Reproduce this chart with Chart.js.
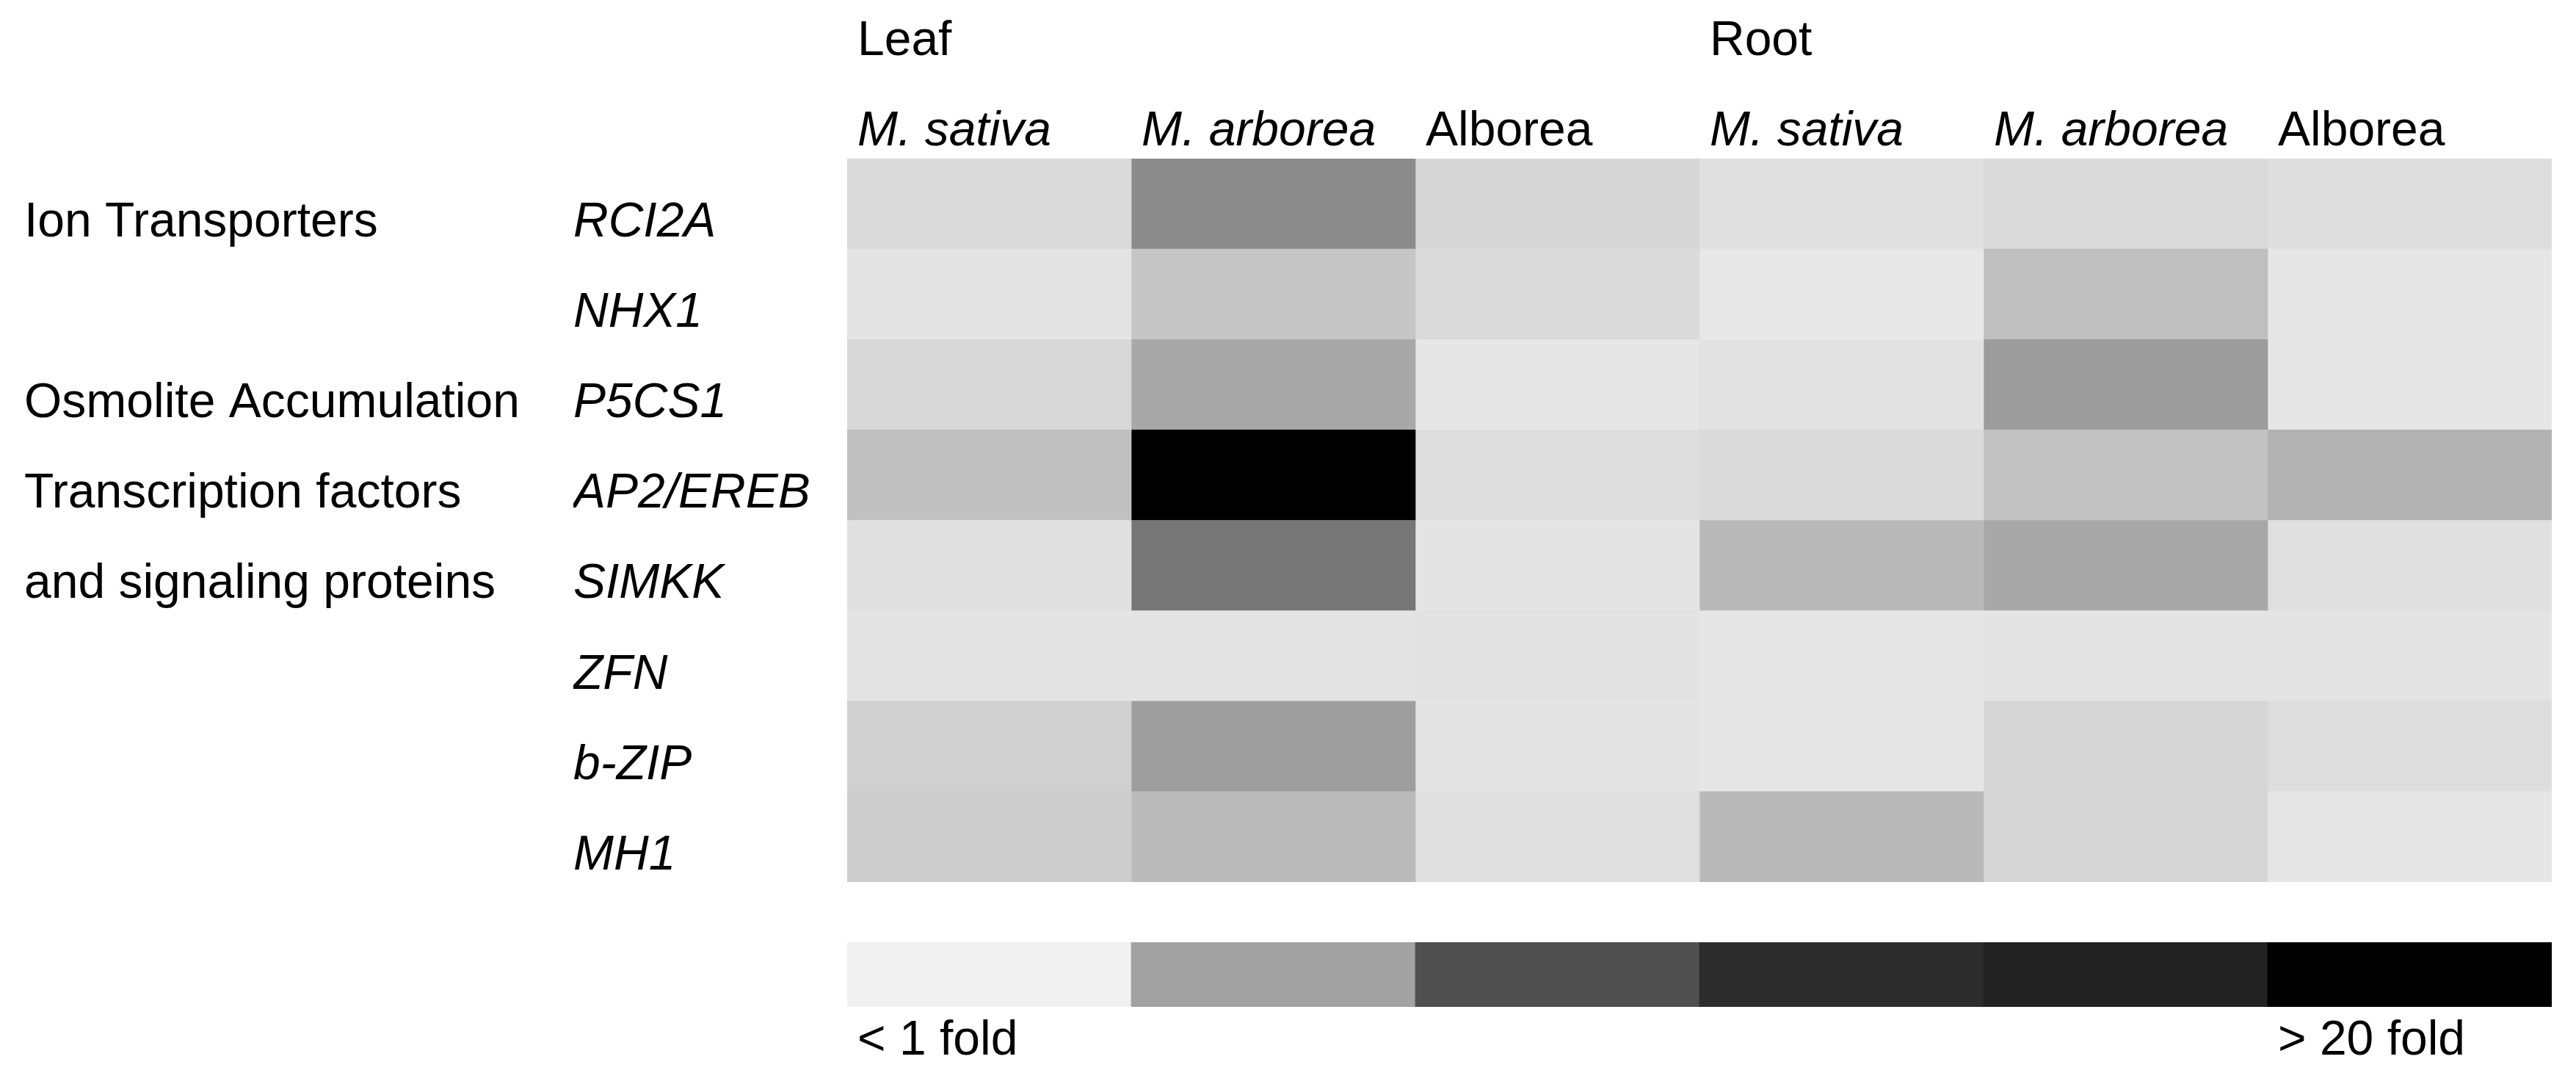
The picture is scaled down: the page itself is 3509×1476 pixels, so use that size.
<!DOCTYPE html>
<html>
<head>
<meta charset="utf-8">
<title>Expression heatmap</title>
<script src="https://cdn.jsdelivr.net/npm/chart.js"></script>
<style>
    body { margin: 0; background: #ffffff; }
    #wrap { position: relative; width: 3509px; height: 1476px; }
    #heatBox { position: absolute; left: 0; top: 0; width: 3509px; height: 1476px; }
    #keyBox { position: absolute; left: 0; top: 1250px; width: 3509px; height: 226px; }
</style>
</head>
<body>
<div id="wrap">
    <div id="heatBox"><canvas id="heatChart"></canvas></div>
    <div id="keyBox"><canvas id="keyChart"></canvas></div>
</div>

<script>
    // filas (genes) y grupos funcionales
    var genes = ['RCI2A', 'NHX1', 'P5CS1', 'AP2/EREB', 'SIMKK', 'ZFN', 'b-ZIP', 'MH1'];
    var groups = ['Ion Transporters', '', 'Osmolite Accumulation', 'Transcription factors', 'and signaling proteins', '', '', ''];

    // columnas
    var tissues = ['Leaf', '', '', 'Root', '', ''];
    var lines = ['M. sativa', 'M. arborea', 'Alborea', 'M. sativa', 'M. arborea', 'Alborea'];

    var leafSativa  = [1.8, 1.0, 2.0, 4.0, 1.3, 1.0, 2.7, 2.9];
    var leafArborea = [8.3, 3.5, 6.0, 20.0, 10.2, 1.0, 6.8, 4.5];
    var leafAlborea = [2.2, 1.8, 0.8, 1.5, 1.0, 1.2, 1.0, 1.4];
    var rootSativa  = [1.3, 0.7, 1.2, 1.8, 4.6, 0.8, 0.8, 4.6];
    var rootArborea = [1.8, 4.1, 7.0, 3.8, 6.0, 1.0, 2.2, 2.2];
    var rootAlborea = [1.5, 0.8, 0.8, 5.2, 1.3, 1.0, 1.5, 0.8];

    // escala de la leyenda
    var keyLabels = ['< 1 fold', '', '', '', '', '> 20 fold'];
    var keyColors = ['#f0f0f0', '#a2a2a2', '#4f4f4f', '#2c2c2c', '#222222', '#000000'];

    var FONT = '"Liberation Sans", Arial, sans-serif';
    var columns = [leafSativa, leafArborea, leafAlborea, rootSativa, rootArborea, rootAlborea];

    function greyFor(fold) {
        var f = Math.min(20, Math.max(0, fold));
        var v = Math.round(240 - 12 * f);
        return 'rgb(' + v + ',' + v + ',' + v + ')';
    }

    // fija la altura del eje y quita el margen que Chart.js reserva para las etiquetas
    function fixHeight(h) {
        return function (s) {
            s.height = h;
            s.paddingLeft = 0;
            s.paddingRight = 0;
        };
    }

    var noGrid = { display: false, drawTicks: false };
    var noBorder = { display: false };

    var heatDatasets = columns.map(function (col, i) {
        return {
            label: lines[i],
            data: col.map(function () { return 1; }),
            backgroundColor: col.map(greyFor),
            borderWidth: 0,
            barPercentage: 1,
            categoryPercentage: 1
        };
    });

    new Chart(document.getElementById('heatChart').getContext('2d'), {
        type: 'bar',
        data: { labels: genes, datasets: heatDatasets },
        options: {
            indexAxis: 'y',
            responsive: true,
            maintainAspectRatio: false,
            animation: false,
            layout: { padding: { left: 33, right: 33, top: 13, bottom: 275 } },
            plugins: { legend: { display: false }, tooltip: { enabled: false } },
            scales: {
                x: { stacked: true, min: 0, max: 6, display: false },
                y: {
                    stacked: true, position: 'left', weight: 0,
                    grid: noGrid, border: noBorder,
                    afterFit: function (s) { s.width = 373; },
                    ticks: {
                        autoSkip: false, crossAlign: 'far', padding: 0, labelOffset: 26, color: '#000',
                        font: { family: FONT, size: 66, style: 'italic', lineHeight: 1.1 }
                    }
                },
                yGroup: {
                    type: 'category', labels: groups, offset: true, position: 'left', weight: 1,
                    grid: noGrid, border: noBorder,
                    afterFit: function (s) { s.width = 748; },
                    ticks: {
                        autoSkip: false, crossAlign: 'far', padding: 0, labelOffset: 26, color: '#000',
                        font: { family: FONT, size: 66, lineHeight: 1.1 }
                    }
                },
                xTop: {
                    type: 'category', labels: lines, offset: true, position: 'top', weight: 0,
                    grid: noGrid, border: noBorder,
                    afterFit: fixHeight(123),
                    ticks: {
                        autoSkip: false, maxRotation: 0, align: 'start', labelOffset: -179.5, padding: 0, color: '#000',
                        font: function (ctx) {
                            var it = lines[ctx.index] && lines[ctx.index].indexOf('M.') === 0;
                            return { family: FONT, size: 66, lineHeight: 1.1, style: it ? 'italic' : 'normal' };
                        }
                    }
                },
                xGroup: {
                    type: 'category', labels: tissues, offset: true, position: 'top', weight: 1,
                    grid: noGrid, border: noBorder,
                    afterFit: fixHeight(80),
                    ticks: {
                        autoSkip: false, maxRotation: 0, align: 'start', labelOffset: -179.5, padding: 0, color: '#000',
                        font: { family: FONT, size: 66, lineHeight: 1.1 }
                    }
                }
            }
        }
    });

    // barra de la escala de color
    new Chart(document.getElementById('keyChart').getContext('2d'), {
        type: 'bar',
        data: {
            labels: keyLabels,
            datasets: [{
                data: keyColors.map(function () { return 1; }),
                backgroundColor: keyColors,
                borderWidth: 0,
                barPercentage: 1,
                categoryPercentage: 1
            }]
        },
        options: {
            responsive: true,
            maintainAspectRatio: false,
            animation: false,
            layout: { padding: { left: 1154, right: 33, top: 33, bottom: 0 } },
            plugins: { legend: { display: false }, tooltip: { enabled: false } },
            scales: {
                y: { min: 0, max: 1, display: false },
                x: {
                    position: 'bottom', grid: noGrid, border: noBorder,
                    afterFit: fixHeight(105),
                    ticks: {
                        autoSkip: false, maxRotation: 0, align: 'start', labelOffset: -179.5, padding: 10, color: '#000',
                        font: { family: FONT, size: 66, lineHeight: 1.1 }
                    }
                }
            }
        }
    });
</script>
</body>
</html>
